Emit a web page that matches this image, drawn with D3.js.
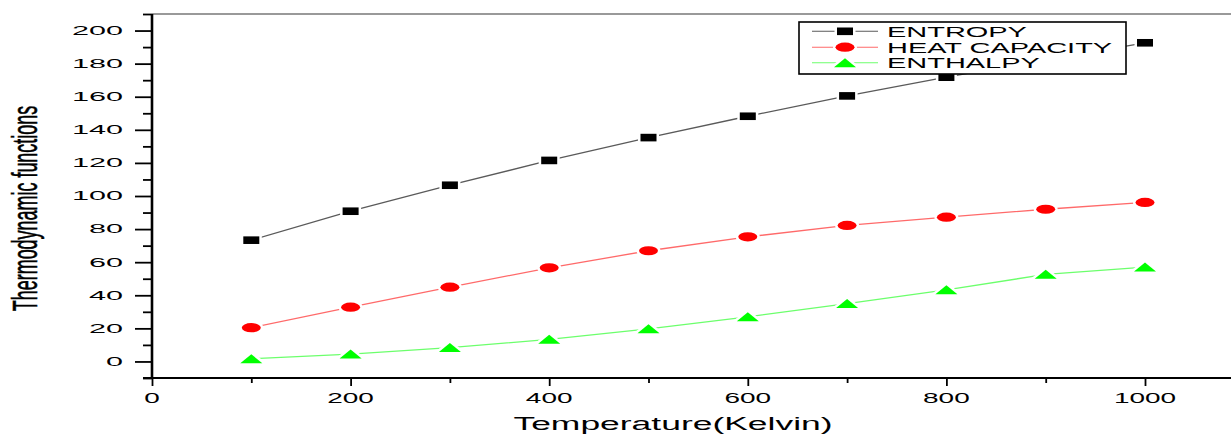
<!DOCTYPE html>
<html><head><meta charset="utf-8">
<script src="https://cdn.jsdelivr.net/npm/d3@7/dist/d3.min.js"></script>
<style>html,body{margin:0;padding:0;background:#fff;overflow:hidden}svg{display:block}text{font-family:"Liberation Sans",Arial,sans-serif;fill:#000}</style>
</head><body><svg id="c" width="1231" height="434"></svg>
<script>
const temperature = [100,200,300,400,500,600,700,800,900,1000];
const entropy     = [73.3,90.8,106.5,121.5,135.3,148.2,160.5,171.8,182.3,192.6];
const heatCap     = [20.4,32.8,44.9,56.6,66.9,75.3,82.2,87.2,92.0,96.1];
const enthalpy    = [1.6,4.4,8.3,13.3,19.7,27.0,34.9,43.3,52.6,57.0];
const seriesNames = ["ENTROPY","HEAT CAPACITY","ENTHALPY"];
const xMajorTicks = [0,200,400,600,800,1000];
const xMinorTicks = [100,300,500,700,900];
const yMajorTicks = [0,20,40,60,80,100,120,140,160,180,200];
const yMinorTicks = [-10,10,30,50,70,90,110,130,150,170,190,210];
const xTitle = "Temperature(Kelvin)";
const yTitle = "Thermodynamic functions";

const svg = d3.select("#c");
const x = d3.scaleLinear().domain([0,1090]).range([152,152+1090*0.993]);
const y = d3.scaleLinear().domain([-10,210]).range([378,14]);

// top frame line
svg.append("line").attr("x1",152).attr("x2",1231).attr("y1",y(210)).attr("y2",y(210))
  .attr("stroke","#777").attr("stroke-width",1.5);

// axes
const axG = svg.append("g");
const yMaj = axG.append("g").attr("transform",`translate(${x(0)},0)`)
  .call(d3.axisLeft(y).tickValues(yMajorTicks).tickSize(17).tickFormat(""));
const yMin = axG.append("g").attr("transform",`translate(${x(0)},0)`)
  .call(d3.axisLeft(y).tickValues(yMinorTicks).tickSize(9).tickFormat(""));
const xMaj = axG.append("g").attr("transform",`translate(0,${y(-10)})`)
  .call(d3.axisBottom(x).tickValues(xMajorTicks).tickSize(8).tickFormat(""));
const xMin = axG.append("g").attr("transform",`translate(0,${y(-10)})`)
  .call(d3.axisBottom(x).tickValues(xMinorTicks).tickSize(5).tickFormat(""));
[yMaj,yMin,xMaj,xMin].forEach(g=>{
  g.select(".domain").remove();
  g.selectAll(".tick line").attr("stroke","#000").attr("stroke-width",1.8);
});
axG.append("line").attr("x1",x(0)).attr("x2",x(0)).attr("y1",y(210)).attr("y2",y(-10))
  .attr("stroke","#000").attr("stroke-width",2.6);
axG.append("line").attr("x1",x(0)-9).attr("x2",1231).attr("y1",y(-10)).attr("y2",y(-10))
  .attr("stroke","#000").attr("stroke-width",2.2);

// tick labels
svg.append("g").selectAll("text").data(yMajorTicks).join("text")
  .attr("text-anchor","end").attr("font-size",12)
  .attr("transform",d=>`translate(123,${y(d)+4.4}) scale(2.55,1)`).text(d=>d);
svg.append("g").selectAll("text").data(xMajorTicks).join("text")
  .attr("text-anchor","middle").attr("font-size",14.5)
  .attr("transform",d=>`translate(${x(d)},402.5) scale(1.93,1)`).text(d=>d);

// axis titles
svg.append("text").attr("text-anchor","middle").attr("font-size",18)
  .attr("transform",`translate(673,430) scale(1.97,1)`).text(xTitle);
svg.append("text").attr("text-anchor","middle").attr("font-size",18.5)
  .attr("stroke","#000").attr("stroke-width",0.3)
  .attr("transform",`translate(37,208.5) rotate(-90) scale(0.97,1.86)`).text(yTitle);

// series
const series = [
  {name:seriesNames[0], values:entropy, line:"#5a5a5a", fill:"#000", shape:"rect"},
  {name:seriesNames[1], values:heatCap, line:"#ff6a6a", fill:"#ff0000", shape:"ellipse"},
  {name:seriesNames[2], values:enthalpy, line:"#6cff6c", fill:"#00ff00", shape:"tri"}
];
function drawMarker(g, shape, fill){
  let m;
  if(shape==="rect") m = g.append("rect").attr("x",-8).attr("y",-3.8).attr("width",16).attr("height",7.6);
  else if(shape==="ellipse") m = g.append("ellipse").attr("rx",9.5).attr("ry",4.6);
  else m = g.append("path").attr("d","M0,-4.6L11,4.4L-11,4.4Z");
  m.attr("fill",fill).attr("stroke","#fff").attr("stroke-width",5).attr("paint-order","stroke");
}
const line = d3.line().x((d,i)=>x(temperature[i])).y(d=>y(d));
series.forEach(s=>{
  svg.append("path").attr("d",line(s.values)).attr("fill","none")
    .attr("stroke",s.line).attr("stroke-width",1.3);
});
series.forEach(s=>{
  s.values.forEach((v,i)=>{
    const g = svg.append("g").attr("transform",`translate(${x(temperature[i])},${y(v)})`);
    drawMarker(g,s.shape,s.fill);
  });
});

// legend
const lg = svg.append("g");
lg.append("rect").attr("x",799).attr("y",22).attr("width",327).attr("height",52)
  .attr("fill","#fff").attr("stroke","#000").attr("stroke-width",1.6);
const rowY = [31.3,47.2,62.8];
series.forEach((s,i)=>{
  lg.append("line").attr("x1",812).attr("x2",878).attr("y1",rowY[i]).attr("y2",rowY[i])
    .attr("stroke",s.line).attr("stroke-width",1.1);
  const g = lg.append("g").attr("transform",`translate(845,${rowY[i]})`);
  drawMarker(g,s.shape,s.fill);
  lg.append("text").attr("font-size",15)
    .attr("transform",`translate(887,${rowY[i]+5.4}) scale(1.93,1)`).text(s.name);
});
</script></body></html>
